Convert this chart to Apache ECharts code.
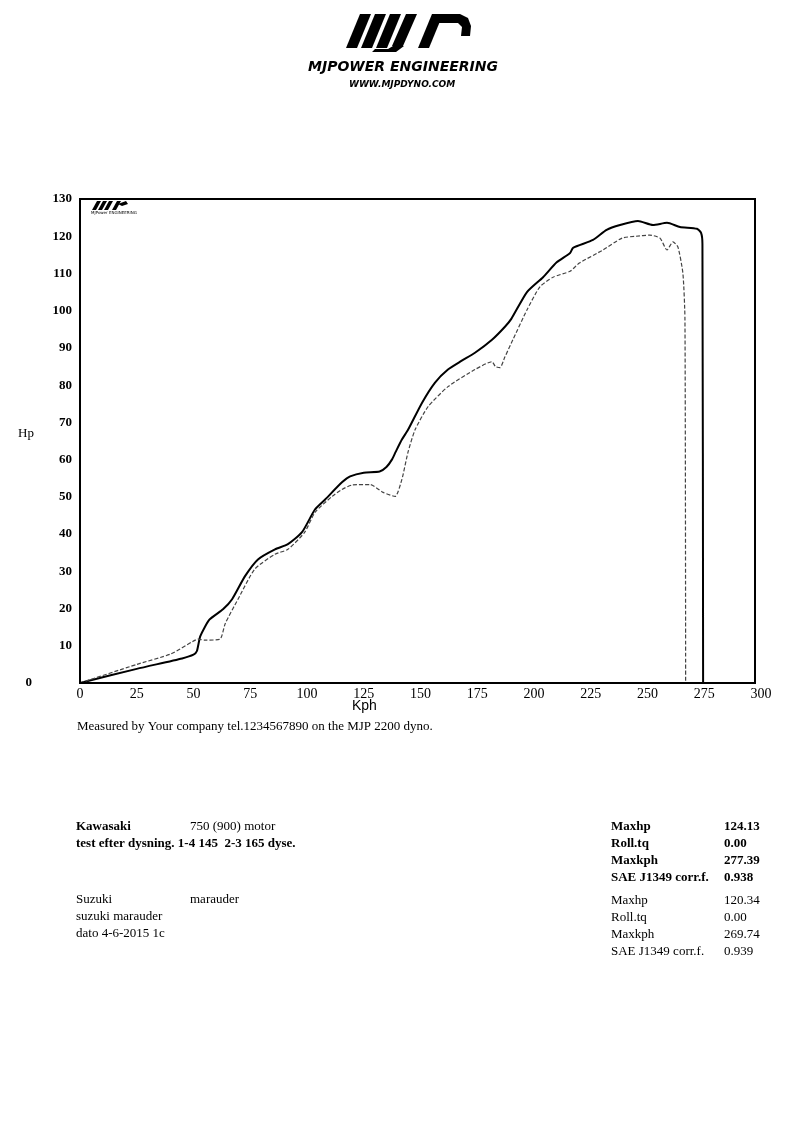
<!DOCTYPE html>
<html>
<head>
<meta charset="utf-8">
<script src="https://cdn.jsdelivr.net/npm/echarts@6/dist/echarts.min.js"></script>
<style>
html,body{margin:0;padding:0;background:#fff;}
#chart{width:806px;height:1136px;}
</style>
</head>
<body>
<div id="chart"></div>
<script>
// ---- data ----
var xTicks = [0, 25, 50, 75, 100, 125, 150, 175, 200, 225, 250, 275, 300];
var yTicks = [0, 10, 20, 30, 40, 50, 60, 70, 80, 90, 100, 110, 120, 130];

var kawasakiKph = [0, 25, 45, 50, 51.5, 53, 57, 63, 67, 72.7, 78.4, 85.9, 91.6, 97.8, 103.5, 108, 115.4, 119, 125, 132, 135, 137.4, 139, 141.8, 144.5, 150.7, 156.4, 162.1, 168, 174, 181.5, 187.2, 190, 196.9, 204, 210, 215.9, 217.2, 226, 232, 237.9, 245.8, 252.4, 258.6, 264.3, 271.8, 273.6, 274.2, 274.5];
var kawasakiHp  = [0, 3.8, 6.6, 7.6, 8.6, 12.6, 17, 19.8, 22.5, 28.7, 33.2, 35.9, 37.3, 40.5, 46.6, 49.3, 53.9, 55.5, 56.5, 56.8, 58, 60, 62, 65.4, 68, 75.3, 80.7, 84.2, 86.5, 88.7, 92.2, 95.7, 97.8, 105, 109, 113, 115.5, 116.9, 119, 121.7, 123, 124.1, 123, 123.6, 122.5, 122, 120.9, 118, 0];

var suzukiKph = [0, 25, 40, 49.8, 52, 55, 61.7, 64, 69.6, 77, 85.9, 91.6, 99, 103.5, 111, 115.4, 120, 127.8, 133.5, 138.8, 141.8, 144.5, 147.6, 153.3, 162.1, 174, 181.5, 183, 185, 187.2, 190.7, 196.9, 202.6, 208.4, 215.9, 220, 230.4, 238.8, 245, 251, 255.5, 258.6, 261.2, 263.4, 265.6, 266.5, 266.8];
var suzukiHp  = [0, 5, 7.8, 11.2, 11.8, 11.5, 11.8, 16, 22.5, 30.6, 34.6, 35.9, 40.5, 45.8, 50.1, 52, 53.2, 53.3, 51.2, 50.1, 54.7, 62, 68, 74.2, 79.6, 84.2, 86.3, 85, 84.7, 87.6, 92.2, 100.2, 106.4, 109, 110.6, 112.8, 116.3, 119.5, 120, 120.3, 119.5, 116.3, 118.5, 117.1, 110, 97.6, 0];

var headerTitle = 'MJPOWER ENGINEERING';
var headerUrl = 'WWW.MJPDYNO.COM';
var measuredText = 'Measured by Your company tel.1234567890 on the MJP 2200 dyno.';
var run1Lines = ['Kawasaki', 'test efter dysning. 1-4 145  2-3 165 dyse.'];
var run1Extra = '750 (900) motor';
var run2Lines = ['Suzuki', 'suzuki marauder', 'dato 4-6-2015 1c'];
var run2Extra = 'marauder';
var statLabels = ['Maxhp', 'Roll.tq', 'Maxkph', 'SAE J1349 corr.f.'];
var run1Stats = ['124.13', '0.00', '277.39', '0.938'];
var run2Stats = ['120.34', '0.00', '269.74', '0.939'];

function pairs(xs, ys) { return xs.map(function (x, i) { return [x, ys[i]]; }); }

var serif = '"Liberation Serif", "DejaVu Serif", serif';
var chart = echarts.init(document.getElementById('chart'));

var graphics = [];
function txt(x, y, s, opt) {
  opt = opt || {};
  graphics.push({
    type: 'text', left: x, top: y,
    style: {
      text: s, fill: '#000',
      font: (opt.style || '') + ' ' + (opt.weight || 'normal') + ' ' + (opt.size || 13) + 'px ' + (opt.family || serif),
      textAlign: opt.align || 'left'
    }
  });
}
function poly(points) {
  graphics.push({ type: 'polygon', shape: { points: points }, style: { fill: '#000' } });
}

// plot frame
graphics.push({ type: 'polygon', shape: { points: [[80,199],[755,199],[755,683],[80,683]] }, style: { stroke: '#000', lineWidth: 2, fill: null }, z: 10 });

// header logo (slanted bars)
poly([[346,48],[357,48],[371,14],[360,14]]);
poly([[361,48],[372,48],[386,14],[375,14]]);
poly([[376,48],[387,48],[401,14],[390,14]]);
poly([[392,46],[403,46],[417,14],[406,14]]);
poly([[372,52],[396,52],[404,46],[393,46],[388,49],[375,49]]);
poly([[418,48],[429,48],[443,14],[432,14]]);
poly([[436,14],[460,14],[468,18],[471,26],[470,36],[461,36],[462,27],[458,23],[433,23]]);

txt(308, 60, headerTitle, { weight: 'bold', style: 'italic', size: 14, family: '"DejaVu Sans", sans-serif' });
txt(349, 80, headerUrl, { weight: 'bold', style: 'italic', size: 9, family: '"DejaVu Sans", sans-serif' });

// small logo in plot corner
poly([[92,210],[96,210],[101,201],[97,201]]);
poly([[98,210],[102,210],[107,201],[103,201]]);
poly([[104,210],[108,210],[113,201],[109,201]]);
poly([[112,210],[116,210],[121,201],[117,201]]);
poly([[118,204],[126,201],[128,204],[122,206]]);
txt(91, 211, 'MJPower ENGINEERING', { size: 4, family: '"DejaVu Sans", sans-serif' });

txt(18, 427, 'Hp', { size: 13 });
txt(352, 699, 'Kph', { size: 14, align: 'center', family: '"Liberation Sans Narrow", "Liberation Sans", sans-serif' });
txt(77, 720, measuredText, { size: 13 });

txt(76, 820, run1Lines[0], { weight: 'bold', size: 13 });
txt(190, 820, run1Extra, { size: 13 });
txt(76, 837, run1Lines[1], { weight: 'bold', size: 13 });

txt(76, 893, run2Lines[0], { size: 13 });
txt(190, 893, run2Extra, { size: 13 });
txt(76, 910, run2Lines[1], { size: 13 });
txt(76, 927, run2Lines[2], { size: 13 });

for (var i = 0; i < statLabels.length; i++) {
  txt(611, 820 + i * 17, statLabels[i], { weight: 'bold', size: 13 });
  txt(724, 820 + i * 17, run1Stats[i], { weight: 'bold', size: 13 });
  txt(611, 894 + i * 17, statLabels[i], { size: 13 });
  txt(724, 894 + i * 17, run2Stats[i], { size: 13 });
}

var option = {
  backgroundColor: '#fff',
  animation: false,
  grid: { left: 80, right: 45, top: 199, bottom: 453, show: false },
  xAxis: {
    type: 'value', min: 0, max: 300, interval: 25,
    axisLine: { show: false },
    axisTick: { show: false },
    splitLine: { show: false },
    axisLabel: {
      color: '#000', fontFamily: serif, fontSize: 14, margin: 4,
      formatter: function (v) { return xTicks.indexOf(v) >= 0 ? String(v) : ''; }
    }
  },
  yAxis: {
    type: 'value', min: 0, max: 130, interval: 10,
    axisLine: { show: false },
    axisTick: { show: false },
    splitLine: { show: false },
    axisLabel: {
      color: '#000', fontFamily: serif, fontSize: 13, fontWeight: 'bold', margin: 8,
      formatter: function (v) {
        if (yTicks.indexOf(v) < 0) return '';
        return v === 0 ? '{z|0}' : String(v);
      },
      rich: { z: { fontFamily: serif, fontSize: 13, color: '#000', padding: [0, 40, 0, 0] } }
    }
  },
  series: [
    {
      name: 'Kawasaki', type: 'line', showSymbol: false, smooth: 0.2,
      data: pairs(kawasakiKph, kawasakiHp),
      lineStyle: { color: '#000', width: 2 }
    },
    {
      name: 'Suzuki', type: 'line', showSymbol: false, smooth: 0.2,
      data: pairs(suzukiKph, suzukiHp),
      lineStyle: { color: '#444', width: 1.2, type: [4, 2] }
    }
  ],
  graphic: graphics
};
chart.setOption(option);
</script>
</body>
</html>
